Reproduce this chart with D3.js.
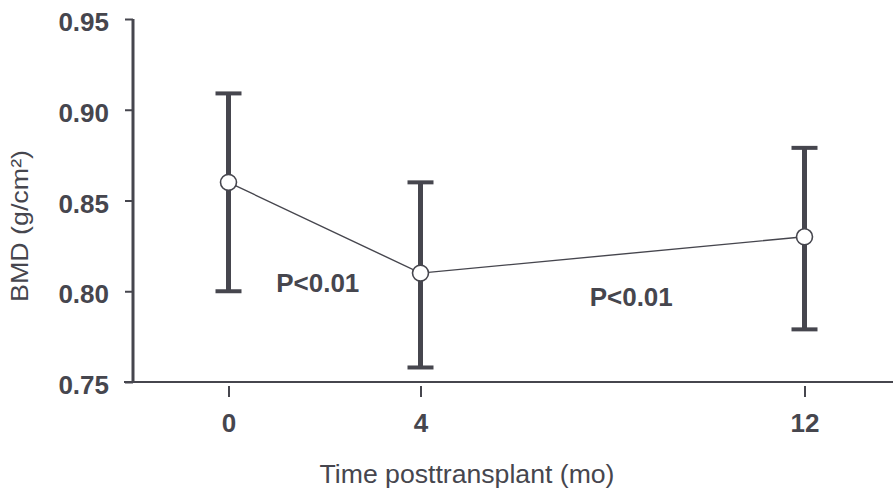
<!DOCTYPE html>
<html>
<head>
<meta charset="utf-8">
<script src="https://cdn.jsdelivr.net/npm/d3@7"></script>
<style>
  body { margin: 0; background: #fff; }
  svg { display: block; }
</style>
</head>
<body>
<div id="chart"></div>
<script>
const months = [0, 4, 12]
const bmdMean = [0.86, 0.81, 0.83]
const bmdUpper = [0.909, 0.86, 0.879]
const bmdLower = [0.80, 0.758, 0.779]
const yTicks = [0.75, 0.80, 0.85, 0.90, 0.95]
const pLabels = [
  { text: "P<0.01", x: 1.86, y: 0.7996 },
  { text: "P<0.01", x: 8.39, y: 0.792 }
]

const width = 893
const height = 491
const ink = "#46464e"
const boldFont = "'Liberation Sans Narrow', 'Liberation Sans', Arial, sans-serif"

const svg = d3.select("#chart")
  .append("svg")
  .attr("width", width)
  .attr("height", height)

// scales
const x = d3.scaleLinear()
  .domain([0, 12])
  .range([228.5, 804.5])

const y = d3.scaleLinear()
  .domain([0.75, 0.95])
  .range([382, 19])

// Y axis
const yAxis = svg.append("g")
  .attr("transform", "translate(133,0)")
  .call(d3.axisLeft(y).tickValues(yTicks).tickFormat(d3.format(".2f")).tickSize(8).tickPadding(16))

yAxis.select(".domain")
  .attr("stroke", ink)
  .attr("stroke-width", 3)
  .attr("d", `M0,${y(0.95)}V${y(0.75)}`)
yAxis.selectAll(".tick line")
  .attr("stroke", ink)
  .attr("stroke-width", 2)
yAxis.selectAll("text")
  .attr("fill", ink)
  .attr("font-family", boldFont)
  .attr("font-weight", "bold")
  .attr("font-size", "26px")
  .attr("dy", "0.45em")

// X axis
const xAxis = svg.append("g")
  .attr("transform", `translate(0,${y(0.75)})`)
  .call(d3.axisBottom(x).tickValues(months).tickSize(0).tickPadding(40))

xAxis.select(".domain").remove()
xAxis.append("line")
  .attr("x1", 124)
  .attr("x2", width)
  .attr("stroke", ink)
  .attr("stroke-width", 2)

xAxis.selectAll(".tick").append("line")
  .attr("y1", 4)
  .attr("y2", 15)
  .attr("stroke", ink)
  .attr("stroke-width", 2)

xAxis.selectAll(".tick text")
  .attr("fill", ink)
  .attr("font-family", boldFont)
  .attr("font-weight", "bold")
  .attr("font-size", "26px")
  .attr("dy", "0.4em")

// connecting line
const line = d3.line()
  .x((d, i) => x(months[i]))
  .y(d => y(d))

svg.append("path")
  .datum(bmdMean)
  .attr("d", line)
  .attr("fill", "none")
  .attr("stroke", ink)
  .attr("stroke-width", 1.4)

// error bars
const bars = svg.append("g")
  .selectAll("g")
  .data(months)
  .enter()
  .append("g")

bars.append("line")
  .attr("x1", d => x(d))
  .attr("x2", d => x(d))
  .attr("y1", (d, i) => y(bmdUpper[i]))
  .attr("y2", (d, i) => y(bmdLower[i]))
  .attr("stroke", ink)
  .attr("stroke-width", 5)

bars.append("line")
  .attr("x1", d => x(d) - 13)
  .attr("x2", d => x(d) + 13)
  .attr("y1", (d, i) => y(bmdUpper[i]))
  .attr("y2", (d, i) => y(bmdUpper[i]))
  .attr("stroke", ink)
  .attr("stroke-width", 4)

bars.append("line")
  .attr("x1", d => x(d) - 13)
  .attr("x2", d => x(d) + 13)
  .attr("y1", (d, i) => y(bmdLower[i]))
  .attr("y2", (d, i) => y(bmdLower[i]))
  .attr("stroke", ink)
  .attr("stroke-width", 4)

// markers
bars.append("circle")
  .attr("cx", d => x(d))
  .attr("cy", (d, i) => y(bmdMean[i]))
  .attr("r", 8)
  .attr("fill", "#fff")
  .attr("stroke", ink)
  .attr("stroke-width", 1.6)

// p-value labels
svg.selectAll(".plabel")
  .data(pLabels)
  .enter()
  .append("text")
  .attr("class", "plabel")
  .attr("x", d => x(d.x))
  .attr("y", d => y(d.y))
  .attr("text-anchor", "middle")
  .attr("fill", ink)
  .attr("font-family", boldFont)
  .attr("font-weight", "bold")
  .attr("font-size", "26px")
  .text(d => d.text)

// axis titles
svg.append("text")
  .attr("x", 467)
  .attr("y", 483)
  .attr("text-anchor", "middle")
  .attr("fill", ink)
  .attr("font-family", "'Liberation Sans', Arial, sans-serif")
  .attr("font-size", "26px")
  .attr("textLength", 295)
  .attr("lengthAdjust", "spacingAndGlyphs")
  .text("Time posttransplant (mo)")

svg.append("text")
  .attr("transform", "rotate(-90)")
  .attr("x", -226)
  .attr("y", 28)
  .attr("text-anchor", "middle")
  .attr("fill", ink)
  .attr("font-family", "'Liberation Sans', Arial, sans-serif")
  .attr("font-size", "24px")
  .attr("textLength", 152)
  .attr("lengthAdjust", "spacingAndGlyphs")
  .text("BMD (g/cm²)")
</script>
</body>
</html>
